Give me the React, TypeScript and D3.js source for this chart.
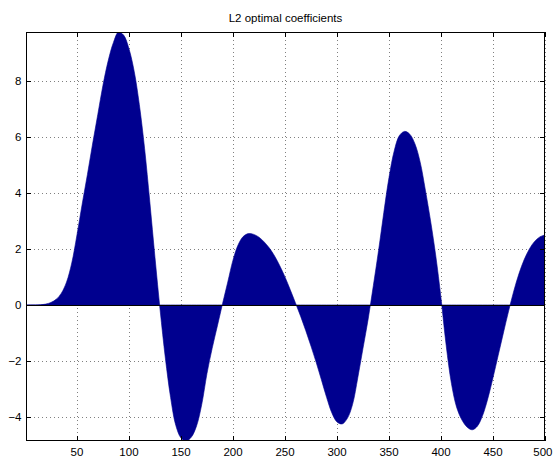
import React, { useEffect, useRef } from "react";
import * as d3 from "d3";

const titleText = "L2 optimal coefficients";

const sampleIndex = [
  1, 5, 10, 15, 20, 25, 30, 35, 40, 45, 50, 55, 60, 65, 70, 75, 80, 85, 90, 95, 100,
  105, 110, 115, 120, 125, 130, 135, 140, 145, 150, 155, 160, 165, 170, 175, 180, 185, 190, 195, 200,
  205, 210, 215, 220, 225, 230, 235, 240, 245, 250, 255, 260, 265, 270, 275, 280, 285, 290, 295, 300,
  305, 310, 315, 320, 325, 330, 335, 340, 345, 350, 355, 360, 365, 370, 375, 380, 385, 390, 395, 400,
  405, 410, 415, 420, 425, 430, 435, 440, 445, 450, 455, 460, 465, 470, 475, 480, 485, 490, 495, 500,
];

const coefficients = [
  0, 0, 0, 0.01, 0.03, 0.09, 0.2, 0.42, 0.82, 1.5, 2.5, 3.6, 4.65, 5.75, 6.8, 7.85, 8.72, 9.37, 9.75, 9.63, 9.15,
  8.35, 7.15, 5.6, 3.7, 1.7, -0.2, -1.9, -3.3, -4.3, -4.75, -4.86, -4.72, -4.32, -3.55, -2.45, -1.55, -0.75, 0.05, 0.82, 1.6,
  2.15, 2.45, 2.55, 2.52, 2.42, 2.25, 2.03, 1.75, 1.4, 1.0, 0.55, 0.08, -0.4, -0.92, -1.47, -2.05, -2.67, -3.3, -3.85, -4.18,
  -4.25, -4.05, -3.55, -2.6, -1.55, -0.5, 0.7, 1.95, 3.3, 4.55, 5.5, 6.05, 6.2, 6.1, 5.75, 5.1, 4.1, 3.0, 1.75, 0.25,
  -1.45, -2.8, -3.65, -4.1, -4.36, -4.46, -4.33, -3.95, -3.35, -2.6, -1.8, -1.0, -0.22, 0.5, 1.12, 1.62, 2.0, 2.27, 2.43, 2.5,
];

const xTicks = [50, 100, 150, 200, 250, 300, 350, 400, 450, 500];
const yTicks = [-4, -2, 0, 2, 4, 6, 8];

const W = 553;
const H = 458;
const left = 26;
const right = 545;
const top = 32;
const bottom = 441;
const font = "'Liberation Sans', Arial, Helvetica, sans-serif";
const fontSize = 11.5;

export default function App() {
  const ref = useRef<SVGSVGElement | null>(null);

  useEffect(() => {
    const svg = d3.select(ref.current);
    svg.selectAll("*").remove();

    const x = d3.scaleLinear().domain([1, 500]).range([left, right]);
    const ext = d3.extent(coefficients) as [number, number];
    const y = d3.scaleLinear().domain(ext).range([bottom, top]);

    const data = sampleIndex.map((i, k) => ({ i, v: coefficients[k] }));

    svg.append("rect").attr("x", 0).attr("y", 0).attr("width", W).attr("height", H).attr("fill", "#fff");

    // grid
    const grid = svg.append("g").attr("stroke", "#808080").attr("stroke-width", 1).attr("stroke-dasharray", "1,3");
    xTicks.forEach((t) => {
      const px = Math.round(x(t)) + 0.5;
      grid.append("line").attr("x1", px).attr("x2", px).attr("y1", top).attr("y2", bottom);
    });
    yTicks.forEach((t) => {
      const py = Math.round(y(t)) + 0.5;
      grid.append("line").attr("x1", left).attr("x2", right).attr("y1", py).attr("y2", py);
    });

    svg
      .append("clipPath")
      .attr("id", "plotclip")
      .append("rect")
      .attr("x", left)
      .attr("y", top)
      .attr("width", right - left)
      .attr("height", bottom - top);

    const area = d3
      .area<{ i: number; v: number }>()
      .x((d) => x(d.i))
      .y0(y(0))
      .y1((d) => y(d.v))
      .curve(d3.curveCatmullRom.alpha(0.5));

    svg
      .append("path")
      .datum(data)
      .attr("clip-path", "url(#plotclip)")
      .attr("d", area)
      .attr("fill", "#00008f")
      .attr("stroke", "#00008f")
      .attr("stroke-width", 0.6);

    // baseline
    const y0 = Math.round(y(0)) + 0.5;
    svg.append("line").attr("x1", left).attr("x2", right).attr("y1", y0).attr("y2", y0).attr("stroke", "#000").attr("stroke-width", 1.2);

    // box
    svg
      .append("rect")
      .attr("x", left + 0.5)
      .attr("y", top + 0.5)
      .attr("width", right - left - 1)
      .attr("height", bottom - top - 1)
      .attr("fill", "none")
      .attr("stroke", "#000")
      .attr("stroke-width", 1);

    const tl = 5;
    const ticks = svg.append("g").attr("stroke", "#000").attr("stroke-width", 1);
    xTicks.forEach((t) => {
      const px = Math.round(x(t)) + 0.5;
      ticks.append("line").attr("x1", px).attr("x2", px).attr("y1", bottom).attr("y2", bottom - tl);
      ticks.append("line").attr("x1", px).attr("x2", px).attr("y1", top).attr("y2", top + tl);
    });
    yTicks.forEach((t) => {
      const py = Math.round(y(t)) + 0.5;
      ticks.append("line").attr("x1", left).attr("x2", left + tl).attr("y1", py).attr("y2", py);
      ticks.append("line").attr("x1", right).attr("x2", right - tl).attr("y1", py).attr("y2", py);
    });

    const labels = svg.append("g").attr("font-family", font).attr("font-size", fontSize).attr("fill", "#000");
    xTicks.forEach((t, k) => {
      const last = k === xTicks.length - 1;
      labels
        .append("text")
        .attr("x", last ? W - 0.5 : x(t))
        .attr("y", 456)
        .attr("text-anchor", last ? "end" : "middle")
        .text(String(t));
    });
    yTicks.forEach((t) => {
      labels
        .append("text")
        .attr("x", 21.5)
        .attr("y", y(t) + 4)
        .attr("text-anchor", "end")
        .text(t < 0 ? "\u2212" + Math.abs(t) : String(t));
    });

    svg
      .append("text")
      .attr("x", (left + right) / 2)
      .attr("y", 22)
      .attr("text-anchor", "middle")
      .attr("font-family", font)
      .attr("font-size", fontSize)
      .attr("fill", "#000")
      .text(titleText);
  }, []);

  return (
    <div style={{ position: "absolute", left: 0, top: 0, width: W, height: H, overflow: "hidden" }}>
      <svg ref={ref} width={W} height={H} style={{ display: "block" }} />
    </div>
  );
}
